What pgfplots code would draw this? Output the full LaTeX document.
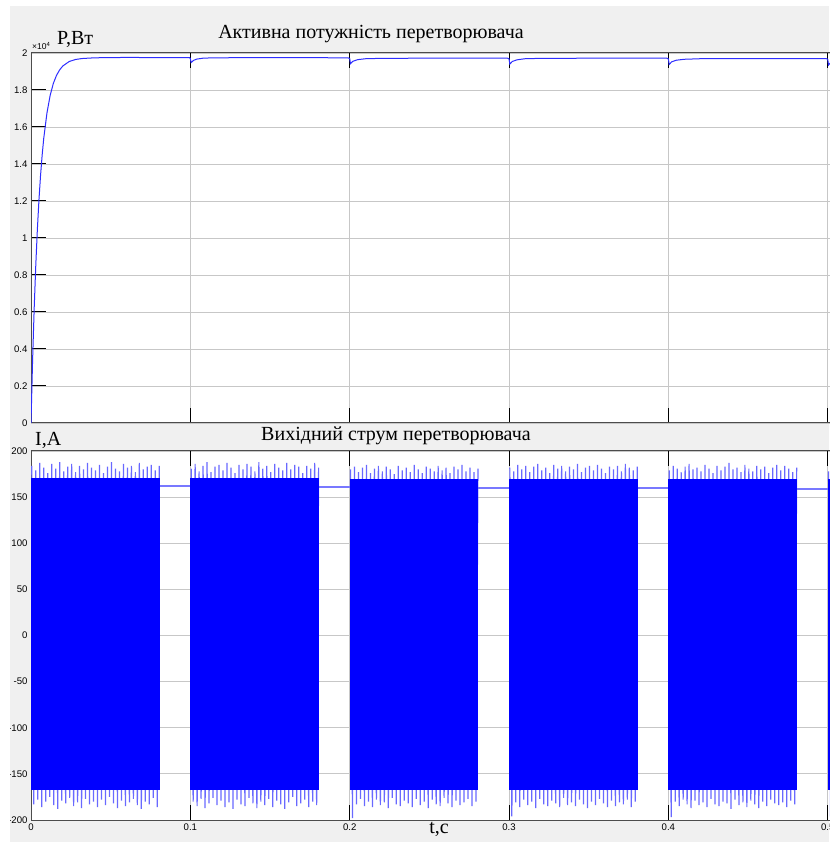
\documentclass[border=0pt]{standalone}
\usepackage{fontspec}
\setmainfont{Liberation Serif}
\setsansfont{Liberation Sans}
\usepackage{pgfplots}
\pgfplotsset{compat=1.18}
\definecolor{figbg}{RGB}{240,240,240}
\definecolor{sigblue}{RGB}{0,0,255}
\definecolor{lightsig}{RGB}{105,105,255}
\definecolor{dcline}{RGB}{120,120,255}
\definecolor{pline}{RGB}{45,45,255}
\pgfplotsset{
  mlab/.style={
    scale only axis, anchor=south west,
    width=828.6pt, xmin=0, xmax=0.52,
    axis background/.style={fill=white},
    axis line style={black!70, line width=1pt},
    grid=major, major grid style={black!22, line width=0.8pt},
    tick style={black, line width=1pt}, major tick length=15pt,
    tick align=inside,
    scaled ticks=false,
    xtick={0,0.1,0.2,0.3,0.4,0.5},
    ticklabel style={font=\sffamily\fontsize{9.6}{10}\selectfont},
    /pgf/number format/assume math mode=true,
    clip=true,
  },
  zz/.style={lightsig, line width=1.2pt, line join=bevel},
}
\begin{document}
\begin{tikzpicture}
\useasboundingbox (0pt,0pt) rectangle (829pt,842pt);
\fill[white] (0pt,0pt) rectangle (829pt,842pt);
\fill[figbg] (10pt,0pt) rectangle (829pt,836pt);
% ---------------- top: active power ----------------
\begin{axis}[mlab, at={(31pt,419pt)}, height=370pt,
  ymin=0, ymax=20000,
  ytick={0,2000,4000,6000,8000,10000,12000,14000,16000,18000,20000},
  yticklabels={0,0.2,0.4,0.6,0.8,1,1.2,1.4,1.6,1.8,2},
  xticklabels={}]
\addplot[pline, line width=1pt] coordinates {
(0,0) (0.001,3400) (0.002,6200) (0.003,8530) (0.004,10470) (0.005,12070)
(0.006,13390) (0.007,14480) (0.008,15390) (0.010,16750) (0.012,17700)
(0.014,18350) (0.016,18790) (0.018,19090) (0.020,19300) (0.024,19540)
(0.028,19650) (0.032,19700) (0.040,19740) (0.060,19760) (0.080,19750)
(0.0995,19750) (0.1,19700) (0.1005,19480) (0.102,19600) (0.104,19670)
(0.108,19720) (0.115,19740) (0.150,19750) (0.199,19740) (0.2,19700)
(0.2005,19420) (0.202,19550) (0.205,19640) (0.21,19690) (0.22,19710)
(0.25,19720) (0.299,19720) (0.3,19680) (0.3005,19400) (0.302,19540)
(0.305,19630) (0.31,19690) (0.32,19710) (0.36,19720) (0.399,19720)
(0.4,19680) (0.4005,19380) (0.402,19520) (0.405,19610) (0.41,19660)
(0.42,19690) (0.46,19700) (0.499,19700) (0.5,19660) (0.5005,19350)
(0.502,19500) (0.505,19600) (0.51,19650) (0.52,19680)};
\end{axis}
% ---------------- bottom: output current ----------------
\begin{axis}[mlab, at={(31pt,22pt)}, height=369pt,
  ymin=-200, ymax=200,
  ytick={-200,-150,-100,-50,0,50,100,150,200},
  yticklabels={-200,-150,-100,-50,0,50,100,150,200},
  xticklabels={0,0.1,0.2,0.3,0.4,0.5}]
% spikes (zig-zag oscillation)
\addplot[zz] coordinates {
(0.0005,184)(0.00175,-183)(0.003,179)(0.00425,-178)(0.0055,187)(0.00675,-186)(0.008,182)(0.00925,-180)(0.0105,176)(0.01175,-175)(0.013,186)(0.01425,-184)(0.0155,181)(0.01675,-188)(0.018,188)(0.01925,-179)(0.0205,178)(0.02175,-182)(0.023,183)(0.02425,-176)(0.0255,186)(0.02675,-185)(0.028,177)(0.02925,-181)(0.0305,184)(0.03175,-187)(0.033,180)(0.03425,-177)(0.0355,187)(0.03675,-183)(0.038,182)(0.03925,-180)(0.0405,179)(0.04175,-186)(0.043,185)(0.04425,-178)(0.0455,176)(0.04675,-184)(0.048,183)(0.04925,-175)(0.0505,188)(0.05175,-182)(0.053,181)(0.05425,-187)(0.0555,178)(0.05675,-179)(0.058,186)(0.05925,-185)(0.0605,182)(0.06175,-181)(0.063,184)(0.06425,-177)(0.0655,177)(0.06675,-184)(0.068,187)(0.06925,-188)(0.0705,180)(0.07175,-180)(0.073,183)(0.07425,-183)(0.0755,185)(0.07675,-176)(0.078,179)(0.07925,-186)(0.0805,184)};
\addplot[zz] coordinates {
(0.1005,181)(0.10175,-180)(0.103,186)(0.10425,-185)(0.1055,178)(0.10675,-177)(0.108,184)(0.10925,-187)(0.1105,188)(0.11175,-182)(0.113,177)(0.11425,-176)(0.1155,183)(0.11675,-184)(0.118,185)(0.11925,-179)(0.1205,179)(0.12175,-186)(0.123,187)(0.12425,-181)(0.1255,182)(0.12675,-188)(0.128,176)(0.12925,-178)(0.1305,185)(0.13175,-183)(0.133,180)(0.13425,-185)(0.1355,186)(0.13675,-176)(0.138,183)(0.13925,-182)(0.1405,178)(0.14175,-187)(0.143,188)(0.14425,-180)(0.1455,181)(0.14675,-184)(0.148,184)(0.14925,-177)(0.1505,177)(0.15175,-186)(0.153,186)(0.15425,-179)(0.1555,182)(0.15675,-183)(0.158,179)(0.15925,-188)(0.1605,187)(0.16175,-181)(0.163,180)(0.16425,-175)(0.1655,185)(0.16675,-185)(0.168,183)(0.16925,-182)(0.1705,176)(0.17175,-178)(0.173,184)(0.17425,-186)(0.1755,181)(0.17675,-180)(0.178,187)(0.17925,-184)(0.1805,182)};
\addplot[zz] coordinates {
(0.2005,180)(0.20175,-198)(0.203,183)(0.20425,-183)(0.2055,177)(0.20675,-177)(0.208,182)(0.20925,-185)(0.2105,185)(0.21175,-180)(0.213,176)(0.21425,-186)(0.2155,181)(0.21675,-178)(0.218,184)(0.21925,-184)(0.2205,178)(0.22175,-181)(0.223,183)(0.22425,-187)(0.2255,180)(0.22675,-176)(0.228,175)(0.22925,-183)(0.2305,184)(0.23175,-185)(0.233,179)(0.23425,-179)(0.2355,182)(0.23675,-182)(0.238,177)(0.23925,-186)(0.2405,185)(0.24175,-177)(0.243,180)(0.24425,-184)(0.2455,176)(0.24675,-180)(0.248,183)(0.24925,-187)(0.2505,181)(0.25175,-178)(0.253,178)(0.25425,-183)(0.2555,184)(0.25675,-185)(0.258,179)(0.25925,-176)(0.2605,182)(0.26175,-182)(0.263,176)(0.26425,-186)(0.2655,183)(0.26675,-179)(0.268,180)(0.26925,-184)(0.2705,185)(0.27175,-181)(0.273,178)(0.27425,-177)(0.2755,182)(0.27675,-185)(0.278,177)(0.27925,-180)(0.2805,181)};
\addplot[zz] coordinates {
(0.3005,182)(0.30175,-196)(0.303,178)(0.30425,-181)(0.3055,185)(0.30675,-186)(0.308,180)(0.30925,-178)(0.3105,184)(0.31175,-184)(0.313,177)(0.31425,-180)(0.3155,183)(0.31675,-187)(0.318,186)(0.31925,-177)(0.3205,179)(0.32175,-183)(0.323,182)(0.32425,-185)(0.3255,176)(0.32675,-179)(0.328,185)(0.32925,-182)(0.3305,181)(0.33175,-186)(0.333,184)(0.33425,-176)(0.3355,178)(0.33675,-184)(0.338,183)(0.33925,-181)(0.3405,180)(0.34175,-185)(0.343,186)(0.34425,-178)(0.3455,177)(0.34675,-183)(0.348,182)(0.34925,-187)(0.3505,184)(0.35175,-180)(0.353,179)(0.35425,-184)(0.3555,185)(0.35675,-177)(0.358,181)(0.35925,-182)(0.3605,176)(0.36175,-186)(0.363,183)(0.36425,-179)(0.3655,180)(0.36675,-185)(0.368,184)(0.36925,-181)(0.3705,178)(0.37175,-183)(0.373,186)(0.37425,-178)(0.3755,182)(0.37675,-186)(0.378,179)(0.37925,-180)(0.3805,183)};
\addplot[zz] coordinates {
(0.4005,179)(0.40175,-197)(0.403,184)(0.40425,-180)(0.4055,181)(0.40675,-185)(0.408,177)(0.40925,-178)(0.4105,183)(0.41175,-183)(0.413,186)(0.41425,-187)(0.4155,180)(0.41675,-179)(0.418,182)(0.41925,-184)(0.4205,178)(0.42175,-181)(0.423,185)(0.42425,-186)(0.4255,181)(0.42675,-177)(0.428,176)(0.42925,-183)(0.4305,184)(0.43175,-185)(0.433,179)(0.43425,-180)(0.4355,183)(0.43675,-182)(0.438,187)(0.43925,-188)(0.4405,180)(0.44175,-178)(0.443,182)(0.44425,-184)(0.4455,177)(0.44675,-181)(0.448,185)(0.44925,-186)(0.4505,181)(0.45175,-179)(0.453,178)(0.45425,-183)(0.4555,184)(0.45675,-187)(0.458,180)(0.45925,-180)(0.4605,183)(0.46175,-185)(0.463,176)(0.46425,-178)(0.4655,182)(0.46675,-182)(0.468,185)(0.46925,-184)(0.4705,179)(0.47175,-181)(0.473,184)(0.47425,-186)(0.4755,181)(0.47675,-179)(0.478,177)(0.47925,-183)(0.4805,182)};
\addplot[zz] coordinates {
(0.5005,178)(0.50175,-196)(0.503,183)(0.50425,-181)(0.5055,180)(0.50675,-185)(0.508,184)(0.50925,-179)(0.5105,181)(0.51175,-184)(0.513,185)(0.51425,-180)(0.5155,179)(0.51675,-186)(0.518,183)(0.51925,-182)};
% solid cores of the oscillation bands
\addplot[fill=sigblue, draw=none] coordinates {(0,-167) (0,171) (0.0808,171) (0.0808,-167)};
\addplot[fill=sigblue, draw=none] coordinates {(0.1,-167) (0.1,171) (0.1808,171) (0.1808,-167)};
\addplot[fill=sigblue, draw=none] coordinates {(0.2,-167) (0.2,170) (0.2808,170) (0.2808,-167)};
\addplot[fill=sigblue, draw=none] coordinates {(0.3,-167) (0.3,170) (0.3808,170) (0.3808,-167)};
\addplot[fill=sigblue, draw=none] coordinates {(0.4,-167) (0.4,170) (0.4808,170) (0.4808,-167)};
\addplot[fill=sigblue, draw=none] coordinates {(0.5,-167) (0.5,170) (0.52,170) (0.52,-167)};
% DC level between bands
\addplot[dcline, line width=1.6pt] coordinates {(0.0808,162) (0.1,162)};
\addplot[dcline, line width=1.6pt] coordinates {(0.1808,161) (0.2,161)};
\addplot[dcline, line width=1.6pt] coordinates {(0.2808,160) (0.3,160)};
\addplot[dcline, line width=1.6pt] coordinates {(0.3808,160) (0.4,160)};
\addplot[dcline, line width=1.6pt] coordinates {(0.4808,159) (0.5,159)};
\end{axis}
% texts
\node[font=\fontsize{20}{22}\selectfont, anchor=base] at (371pt,803pt) {Активна потужність перетворювача};
\node[font=\fontsize{20}{22}\selectfont, anchor=base west, inner sep=0pt] at (57pt,797pt) {P,Вт};
\node[font=\sffamily\fontsize{8.5}{9}\selectfont, anchor=south west, inner sep=0pt] at (32pt,792pt) {×10\textsuperscript{4}};
\node[font=\fontsize{20}{22}\selectfont, anchor=base] at (396pt,401pt) {Вихідний струм перетворювача};
\node[font=\fontsize{20}{22}\selectfont, anchor=base west, inner sep=0pt] at (35pt,396pt) {I,A};
\node[font=\fontsize{20}{22}\selectfont, anchor=base] at (439pt,9pt) {t,c};
% cropped margins of the screenshot
\fill[white] (0pt,0pt) rectangle (10pt,842pt);
\fill[white] (0pt,836pt) rectangle (829pt,842pt);
\end{tikzpicture}
\end{document}
